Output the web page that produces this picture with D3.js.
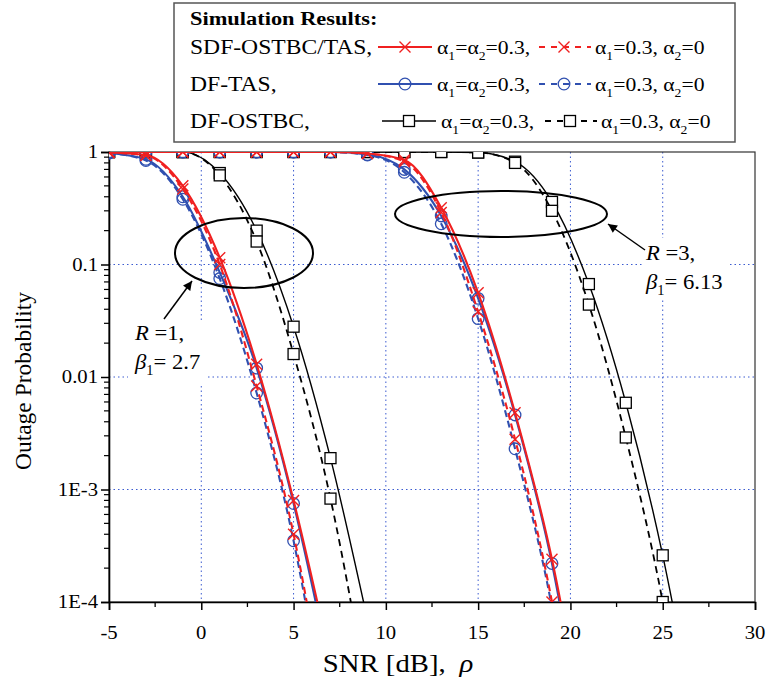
<!DOCTYPE html>
<html><head><meta charset="utf-8">
<script src="https://cdn.jsdelivr.net/npm/d3@7"></script>
<style>body{margin:0;background:#fff}svg{display:block;font-family:"Liberation Serif","Times New Roman",serif}</style>
</head><body><svg id="c" width="766" height="690"></svg>
<script>
// ---- data ----
const snr = [-5,-3,-1,1,3,5,7,9,11,13,15,17,19,21,23,25,27];
const xTicks = [-5,0,5,10,15,20,25,30];
const yTicks = [1,0.1,0.01,1e-3,1e-4];
const yTickLabels = ["1","0.1","0.01","1E-3","1E-4"];
// R = 1
const sdfA_R1 = [0.99,0.94,0.50,0.115,0.013,8.0e-4,3.0e-5];
const sdfB_R1 = [0.99,0.93,0.47,0.100,0.0083,4.0e-4,6e-6];
const tasA_R1 = [0.98,0.86,0.40,0.085,0.012,7.5e-4,2.4e-5];
const tasB_R1 = [0.98,0.84,0.38,0.075,0.0072,3.5e-4,5e-6];
const dfA_R1  = [1,1,1,0.65,0.20,0.028,0.0019,7e-5];
const dfB_R1  = [1,1,1,0.62,0.16,0.016,8.3e-4,1.5e-5];
// R = 3
const sdfA_R3 = [1,1,1,1,1,1,1,0.97,0.85,0.32,0.056,0.0048,2.4e-4,4e-6];
const sdfB_R3 = [1,1,1,1,1,1,1,0.97,0.82,0.29,0.038,0.0028,1.0e-4,1e-6];
const tasA_R3 = [1,1,1,1,1,1,1,0.95,0.70,0.27,0.050,0.0046,2.2e-4,3e-6];
const tasB_R3 = [1,1,1,1,1,1,1,0.94,0.66,0.23,0.033,0.0023,9e-5,8e-7];
const dfA_R3  = [1,1,1,1,1,1,1,1,1,1,0.99,0.82,0.36,0.067,0.0059,2.6e-4,5e-6];
const dfB_R3  = [1,1,1,1,1,1,1,1,1,1,0.99,0.80,0.30,0.044,0.0029,1.0e-4,1e-6];

const RED="#f02020", BLUE="#3050b0", BLACK="#000";
const series = [
  {v:dfA_R1,c:BLACK,m:"sq",d:false},{v:dfB_R1,c:BLACK,m:"sq",d:true},
  {v:dfA_R3,c:BLACK,m:"sq",d:false},{v:dfB_R3,c:BLACK,m:"sq",d:true},
  {v:tasA_R1,c:BLUE,m:"ci",d:false},{v:tasB_R1,c:BLUE,m:"ci",d:true},
  {v:tasA_R3,c:BLUE,m:"ci",d:false},{v:tasB_R3,c:BLUE,m:"ci",d:true},
  {v:sdfA_R1,c:RED,m:"x",d:false},{v:sdfB_R1,c:RED,m:"x",d:true},
  {v:sdfA_R3,c:RED,m:"x",d:false},{v:sdfB_R3,c:RED,m:"x",d:true}
];

const svg = d3.select("#c");
const L=109,R=755,T=152,B=602;
const SX=1.18;
const x = d3.scaleLinear().domain([-5,30]).range([L,R]);
const y = d3.scaleLog().domain([1e-4,1]).range([B,T]);

function stext(parent, px, py, size, anchor, sx){
  return parent.append("text").attr("transform",`translate(${px},${py}) scale(${sx||SX},1)`)
    .attr("font-size",size).attr("text-anchor",anchor||"start");
}

svg.append("defs").append("clipPath").attr("id","clip")
  .append("rect").attr("x",L).attr("y",T).attr("width",R-L).attr("height",B-T);

// grid
const grid = svg.append("g").attr("stroke","#3b5bd0").attr("stroke-width",1).attr("stroke-dasharray","1.5,3");
[0,5,10,15,20,25].forEach(v=>grid.append("line").attr("x1",x(v)).attr("x2",x(v)).attr("y1",T).attr("y2",B));
[0.1,0.01,1e-3].forEach(v=>grid.append("line").attr("x1",L).attr("x2",R).attr("y1",y(v)).attr("y2",y(v)));

// white boxes behind annotation text
svg.append("rect").attr("x",128).attr("y",320).attr("width",79).attr("height",65).attr("fill","#fff");
svg.append("rect").attr("x",643).attr("y",238).attr("width",87).attr("height",62).attr("fill","#fff");

// frame
svg.append("rect").attr("x",L).attr("y",T).attr("width",R-L).attr("height",B-T)
  .attr("fill","none").attr("stroke","#333").attr("stroke-width",1.2);

// axes
const xAxis = d3.axisBottom(x).tickValues(xTicks).tickSize(8).tickFormat("");
const gx = svg.append("g").attr("transform",`translate(0,${B})`).call(xAxis);
gx.selectAll(".tick line").attr("stroke-width",1.5);
gx.select(".domain").attr("stroke-width",1.6);
const xMinor = d3.range(-2.5,30,5);
gx.selectAll(".mt").data(xMinor).enter().append("line").attr("x1",d=>x(d)).attr("x2",d=>x(d)).attr("y1",0).attr("y2",5).attr("stroke","#000").attr("stroke-width",1.3);
xTicks.forEach(v=>stext(svg, x(v), 639, 18, "middle", 1.15).text(String(v)));

const yAxis = d3.axisLeft(y).tickValues(yTicks).tickSize(8).tickFormat("");
const gy = svg.append("g").attr("transform",`translate(${L},0)`).call(yAxis);
gy.selectAll(".tick line").attr("stroke-width",1.5);
gy.select(".domain").attr("stroke-width",1.6);
const yMinor=[];
[1e-4,1e-3,1e-2,1e-1].forEach(dec=>{for(let k=2;k<=9;k++) yMinor.push(dec*k);});
gy.selectAll(".mt").data(yMinor).enter().append("line").attr("x1",-5).attr("x2",0).attr("y1",d=>y(d)).attr("y2",d=>y(d)).attr("stroke","#000").attr("stroke-width",1.2);
yTicks.forEach((v,i)=>stext(svg, 98, y(v)+6, 18, "end", 1.15).text(yTickLabels[i]));

// axis titles
svg.append("text").attr("transform","translate(31,381) rotate(-90)").attr("text-anchor","middle")
  .attr("font-size",23.5).text("Outage Probability");
const xt = stext(svg, 398, 672, 25, "middle", 1.15);
xt.append("tspan").text("SNR [dB],");
xt.append("tspan").attr("dx",12).attr("font-style","italic").text("ρ");

// curves
const plot = svg.append("g").attr("clip-path","url(#clip)");
const line = d3.line().x(d=>x(d[0])).y(d=>y(d[1])).curve(d3.curveMonotoneX);
function marker(g, type, c, px, py){
  if(type==="sq") g.append("rect").attr("x",px-5.5).attr("y",py-5.5).attr("width",11).attr("height",11).attr("fill","#fff").attr("stroke",c).attr("stroke-width",1.3);
  else if(type==="ci") g.append("circle").attr("cx",px).attr("cy",py).attr("r",5.8).attr("fill","none").attr("stroke",c).attr("stroke-width",1.3);
  else g.append("path").attr("d",`M${px-5.5},${py-5.5}L${px+5.5},${py+5.5}M${px-5.5},${py+5.5}L${px+5.5},${py-5.5}`).attr("stroke",c).attr("stroke-width",1.4);
}
series.forEach(s=>{
  const pts = s.v.map((v,i)=>[snr[i],v]);
  plot.append("path").attr("d",line(pts)).attr("fill","none").attr("stroke",s.c)
    .attr("stroke-width", s.c===BLACK? (s.d?1.8:1.4) : 2.1)
    .attr("stroke-dasharray", s.d? (s.c===BLACK?"7,5":"7,4") : null);
  pts.forEach(p=>marker(plot,s.m,s.c,x(p[0]),y(p[1])));
});

// annotations
svg.append("defs").append("marker").attr("id","ah").attr("viewBox","0 0 10 10").attr("refX",10).attr("refY",5)
  .attr("markerWidth",12).attr("markerHeight",9).attr("markerUnits","userSpaceOnUse").attr("orient","auto")
  .append("path").attr("d","M0,0L10,5L0,10z").attr("fill","#000");
svg.append("ellipse").attr("cx",244).attr("cy",253).attr("rx",69).attr("ry",35).attr("fill","none").attr("stroke","#000").attr("stroke-width",2);
svg.append("ellipse").attr("cx",501).attr("cy",214).attr("rx",106).attr("ry",23).attr("fill","none").attr("stroke","#000").attr("stroke-width",2);
svg.append("line").attr("x1",164).attr("y1",319).attr("x2",192).attr("y2",281).attr("stroke","#000").attr("stroke-width",1.5).attr("marker-end","url(#ah)");
svg.append("line").attr("x1",645).attr("y1",250).attr("x2",608).attr("y2",224).attr("stroke","#000").attr("stroke-width",1.5).attr("marker-end","url(#ah)");

function annot(xp, yp, rv, bv){
  const t1 = stext(svg, xp, yp, 22, "start", 1.03);
  t1.append("tspan").attr("font-style","italic").text("R");
  t1.append("tspan").text(" =" + rv + ",");
  const t2 = stext(svg, xp, yp+29, 22, "start", 1.03);
  t2.append("tspan").attr("font-style","italic").text("β");
  t2.append("tspan").attr("font-size",14).attr("dy",6).text("1");
  t2.append("tspan").attr("dy",-6).text("= " + bv);
}
annot(135,340,"1","2.7");
annot(646,260,"3","6.13");

// legend
const lg = svg.append("g");
lg.append("rect").attr("x",174).attr("y",3).attr("width",561).attr("height",139).attr("fill","#fff").attr("stroke","#555").attr("stroke-width",1.5);
stext(lg, 190, 25, 19, "start").attr("font-weight","bold").text("Simulation Results:");
const legRows = [
  {name:"SDF-OSTBC/TAS,",c:RED,m:"x",yb:54,s0:378,d0:539,t0:437,t1:595},
  {name:"DF-TAS,",c:BLUE,m:"ci",yb:91,s0:378,d0:539,t0:437,t1:595},
  {name:"DF-OSTBC,",c:BLACK,m:"sq",yb:128,s0:382,d0:545,t0:441,t1:601}
];
legRows.forEach(r=>{
  stext(lg, 190, r.yb, 20, "start").text(r.name);
  const ly = r.yb-7;
  lg.append("line").attr("x1",r.s0).attr("x2",r.s0+54).attr("y1",ly).attr("y2",ly).attr("stroke",r.c).attr("stroke-width",r.c===BLACK?1.4:2);
  marker(lg,r.m,r.c,r.s0+27,ly);
  lg.append("line").attr("x1",r.d0).attr("x2",r.d0+52).attr("y1",ly).attr("y2",ly).attr("stroke",r.c).attr("stroke-width",r.c===BLACK?1.8:2).attr("stroke-dasharray","6,6");
  marker(lg,r.m,r.c,r.d0+25,ly);
  const ta = stext(lg, r.t0, r.yb, 19, "start", 1.14);
  ta.append("tspan").text("α"); ta.append("tspan").attr("font-size",12).attr("dy",6).text("1");
  ta.append("tspan").attr("dy",-6).text("=α"); ta.append("tspan").attr("font-size",12).attr("dy",6).text("2");
  ta.append("tspan").attr("dy",-6).text("=0.3,");
  const tb = stext(lg, r.t1, r.yb, 19, "start", 1.14);
  tb.append("tspan").text("α"); tb.append("tspan").attr("font-size",12).attr("dy",6).text("1");
  tb.append("tspan").attr("dy",-6).text("=0.3, α"); tb.append("tspan").attr("font-size",12).attr("dy",6).text("2");
  tb.append("tspan").attr("dy",-6).text("=0");
});
</script></body></html>
